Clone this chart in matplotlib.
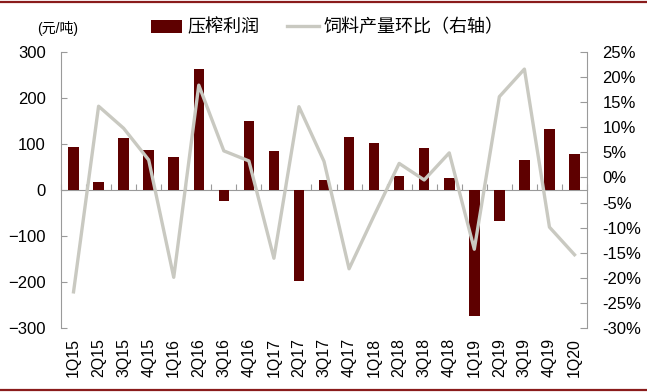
import matplotlib
matplotlib.use("Agg")
import matplotlib.pyplot as plt
from matplotlib.lines import Line2D
from matplotlib.ticker import FuncFormatter
import numpy as np

plt.rcParams["font.family"] = ["Liberation Sans", "Noto Sans CJK SC", "DejaVu Sans"]

quarters = [
    "1Q15", "2Q15", "3Q15", "4Q15",
    "1Q16", "2Q16", "3Q16", "4Q16",
    "1Q17", "2Q17", "3Q17", "4Q17",
    "1Q18", "2Q18", "3Q18", "4Q18",
    "1Q19", "2Q19", "3Q19", "4Q19",
    "1Q20",
]
crush_profit = [93, 18, 112, 86, 71, 264, -24, 151, 85, -198, 21,
                116, 103, 30, 92, 27, -273, -67, 65, 133, 78]
feed_qoq = [-22.8, 14.2, 9.8, 3.5, -19.9, 18.4, 5.3, 3.3, -16.1, 14.1, 3.2,
            -18.2, -7.6, 2.8, -0.5, 4.9, -14.3, 16.1, 21.6, -9.9, -15.4]

BAR_COLOR = "#5e0000"
LINE_COLOR = "#c9c9c1"
AXIS_COLOR = "#9a9a9a"
FRAME_COLOR = "#8a1c1c"

fig = plt.figure(figsize=(6.47, 3.92), dpi=100)
ax = fig.add_axes([0.0943, 0.1633, 0.9073 - 0.0943, 0.8673 - 0.1633])
ax2 = ax.twinx()

x = np.arange(len(quarters))
bars = ax.bar(x, crush_profit, width=0.42, color=BAR_COLOR, zorder=2)
line, = ax2.plot(x, feed_qoq, color=LINE_COLOR, linewidth=2.4, zorder=3)

ax.set_xlim(-0.5, len(quarters) - 0.5)
ax.set_ylim(-300, 300)
ax.set_yticks(np.arange(-300, 301, 100))
ax2.set_ylim(-30, 25)
ax2.set_yticks(np.arange(-30, 26, 5))
ax2.yaxis.set_major_formatter(FuncFormatter(lambda v, _: f"{v:.0f}%"))

for a in (ax, ax2):
    for side in ("top", "bottom"):
        a.spines[side].set_visible(False)
    a.spines["left"].set_color(AXIS_COLOR)
    a.spines["right"].set_color(AXIS_COLOR)
ax.spines["right"].set_visible(False)
ax2.spines["left"].set_visible(False)

ax.tick_params(axis="y", direction="in", length=4, color=AXIS_COLOR,
               labelsize=12, pad=11)
ax2.tick_params(axis="y", direction="in", length=5, color=AXIS_COLOR,
                labelsize=12, pad=11)

ax.set_xticks(x)
ax.set_xticklabels(quarters, rotation=90, fontsize=11.5)
ax.tick_params(axis="x", length=0, pad=7)

# zero line with ticks at the category boundaries
zero = ax.secondary_xaxis(0.5)
for side in ("top", "bottom"):
    zero.spines[side].set_color(AXIS_COLOR)
zero.set_xticks(np.arange(-0.5, len(quarters), 1.0))
zero.set_xticklabels([])
zero.tick_params(axis="x", direction="out", length=4, color=AXIS_COLOR)

ax.text(-0.045, 1.085, "(元/吨)", transform=ax.transAxes, fontsize=10,
        ha="left", va="center")

fig.legend([bars, line], ["压榨利润", "饲料产量环比（右轴）"], ncol=2,
           loc="center", bbox_to_anchor=(0.506, 0.929), frameon=False,
           fontsize=13, handlelength=1.75, handletextpad=0.3, columnspacing=1.5)

fig.add_artist(Line2D([0, 1], [0.995, 0.995], color=FRAME_COLOR, linewidth=1.6,
                      transform=fig.transFigure))
fig.add_artist(Line2D([0, 1], [0.006, 0.006], color=FRAME_COLOR, linewidth=1.6,
                      transform=fig.transFigure))

fig.savefig("out.png", dpi=100)
